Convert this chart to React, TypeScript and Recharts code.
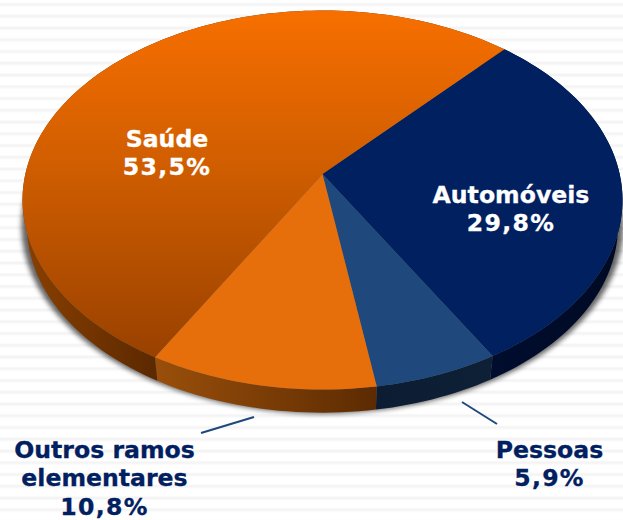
import React from "react";
import { PieChart, Pie, Cell, Customized } from "recharts";

const categories = ["Automóveis", "Pessoas", "Outros ramos elementares", "Saúde"];
const shares = [29.8, 5.9, 10.8, 53.5];
const shareLabels = ["29,8%", "5,9%", "10,8%", "53,5%"];
const labelLines = [["Automóveis"], ["Pessoas"], ["Outros ramos", "elementares"], ["Saúde"]];

const W = 623, H = 520;
const CX = 322.5, CY = 200, RX = 300, RY = 189.5;
const K = 0.137; // perspective: apex of the pie sits above the ellipse centre
const DEPTH = 26;
const BOTTOM_SCALE = 0.985;
const START = 47.6;

const TOP_FILLS = ["#002060", "#1f497d", "#e66f0c", "url(#saudeTop)"];
const WALL_FILLS = ["url(#autoWall)", "url(#pessoasWall)", "url(#outrosWall)", "url(#saudeWall)"];
const LABEL_POS = [
  { x: 511, y: 203, fill: "#ffffff" },
  { x: 549.5, y: 458, fill: "#002060" },
  { x: 104.5, y: 458, fill: "#002060" },
  { x: 167, y: 146.5, fill: "#ffffff" },
];
const LEADERS = [null, [462, 402, 497, 424], [201, 433, 254, 417], null];

const data = categories.map((name, i) => ({ name, value: shares[i], index: i }));

function project(cx: number, cy: number, rx: number, deg: number) {
  const a = (deg * Math.PI) / 180;
  const den = 1 + K * Math.sin(a);
  const ux = (Math.cos(a) * Math.sqrt(1 - K * K)) / den;
  const uy = (Math.sin(a) + K) / den;
  return { x: cx + rx * ux, y: cy - rx * (RY / RX) * uy };
}

function arcPoints(cx: number, cy: number, rx: number, from: number, to: number) {
  const n = Math.max(2, Math.ceil(Math.abs(to - from) / 1.5));
  const out: { x: number; y: number }[] = [];
  for (let i = 0; i <= n; i++) out.push(project(cx, cy, rx, from + ((to - from) * i) / n));
  return out;
}

function TopSlice(p: any) {
  const pts = arcPoints(p.cx, p.cy, p.outerRadius, p.startAngle, p.endAngle);
  const apex = { x: p.cx, y: p.cy - p.outerRadius * (RY / RX) * K };
  const d = `M${apex.x},${apex.y}L` + pts.map((q) => `${q.x},${q.y}`).join("L") + "Z";
  return <path d={d} fill={p.fill} stroke="none" />;
}

function WallSlice(p: any) {
  const top = arcPoints(p.cx, p.cy, p.outerRadius, p.startAngle, p.endAngle);
  const bottom = arcPoints(p.cx, p.cy + DEPTH, p.outerRadius * BOTTOM_SCALE, p.startAngle, p.endAngle).reverse();
  const d = "M" + top.concat(bottom).map((q) => `${q.x},${q.y}`).join("L") + "Z";
  return <path d={d} fill={p.fill} stroke="none" />;
}

function Label(p: any) {
  const i = p.index;
  const pos = LABEL_POS[i];
  const rows = [...labelLines[i], shareLabels[i]];
  const leader = LEADERS[i];
  return (
    <g>
      {leader && (
        <line x1={leader[0]} y1={leader[1]} x2={leader[2]} y2={leader[3]} stroke="#1f497d" strokeWidth={2} />
      )}
      {rows.map((t, r) => (
        <text
          key={t}
          x={pos.x}
          y={pos.y + r * 28.3}
          textAnchor="middle"
          fill={pos.fill}
          stroke={pos.fill}
          strokeWidth={0.3}
          fontFamily="'DejaVu Sans', sans-serif"
          fontWeight={700}
          fontSize={23.6}
          letterSpacing={r === rows.length - 1 ? 1.3 : 0}
        >
          {t}
        </text>
      ))}
    </g>
  );
}

function Backdrop() {
  return (
    <g>
      <rect x={0} y={0} width={W} height={H} fill="url(#stripes)" />
      <ellipse
        cx={CX}
        cy={CY + DEPTH}
        rx={RX + 1}
        ry={RY * BOTTOM_SCALE + 1}
        fill="#000"
        opacity={0.6}
        filter="url(#soft)"
      />
    </g>
  );
}

const Defs = () => (
  <defs>
    <pattern id="stripes" x={0} y={2.5} width={10} height={11.75} patternUnits="userSpaceOnUse">
      <rect width={10} height={11.75} fill="#ffffff" />
      <rect y={0} width={10} height={4} fill="#fafafa" />
      <rect y={1} width={10} height={2} fill="#f4f4f5" />
    </pattern>
    <filter id="soft" x="-5%" y="-5%" width="110%" height="110%">
      <feGaussianBlur stdDeviation={2.5} />
    </filter>
    <linearGradient id="saudeTop" gradientUnits="userSpaceOnUse" x1={0} y1={10} x2={0} y2={365}>
      <stop offset="0" stopColor="#f76f00" />
      <stop offset="0.45" stopColor="#cf5d00" />
      <stop offset="1" stopColor="#974000" />
    </linearGradient>
    <linearGradient id="saudeWall" gradientUnits="userSpaceOnUse" x1={22} y1={0} x2={155} y2={0}>
      <stop offset="0" stopColor="#8a4000" />
      <stop offset="1" stopColor="#5c2900" />
    </linearGradient>
    <linearGradient id="outrosWall" gradientUnits="userSpaceOnUse" x1={155} y1={0} x2={376} y2={0}>
      <stop offset="0" stopColor="#9a4f0a" />
      <stop offset="1" stopColor="#5c2b02" />
    </linearGradient>
    <linearGradient id="pessoasWall" gradientUnits="userSpaceOnUse" x1={376} y1={0} x2={492} y2={0}>
      <stop offset="0" stopColor="#0b1c33" />
      <stop offset="1" stopColor="#0e2036" />
    </linearGradient>
    <linearGradient id="autoWall" gradientUnits="userSpaceOnUse" x1={492} y1={0} x2={623} y2={0}>
      <stop offset="0" stopColor="#000d2e" />
      <stop offset="1" stopColor="#000a24" />
    </linearGradient>
  </defs>
);

export default function App() {
  return (
    <div style={{ position: "absolute", left: 0, top: 0, width: W, height: H, overflow: "hidden" }}>
      <PieChart width={W} height={H} margin={{ top: 0, right: 0, bottom: 0, left: 0 }}>
        <Defs />
        <Customized component={Backdrop} />
        <Pie
          data={data}
          dataKey="value"
          cx={CX}
          cy={CY}
          outerRadius={RX}
          startAngle={START}
          endAngle={START - 360}
          stroke="none"
          shape={WallSlice}
          isAnimationActive={false}
          legendType="none"
        >
          {data.map((d, i) => (
            <Cell key={d.name} fill={WALL_FILLS[i]} />
          ))}
        </Pie>
        <Pie
          data={data}
          dataKey="value"
          cx={CX}
          cy={CY}
          outerRadius={RX}
          startAngle={START}
          endAngle={START - 360}
          stroke="none"
          shape={TopSlice}
          label={Label}
          labelLine={false}
          isAnimationActive={false}
          legendType="none"
        >
          {data.map((d, i) => (
            <Cell key={d.name} fill={TOP_FILLS[i]} />
          ))}
        </Pie>
      </PieChart>
    </div>
  );
}
